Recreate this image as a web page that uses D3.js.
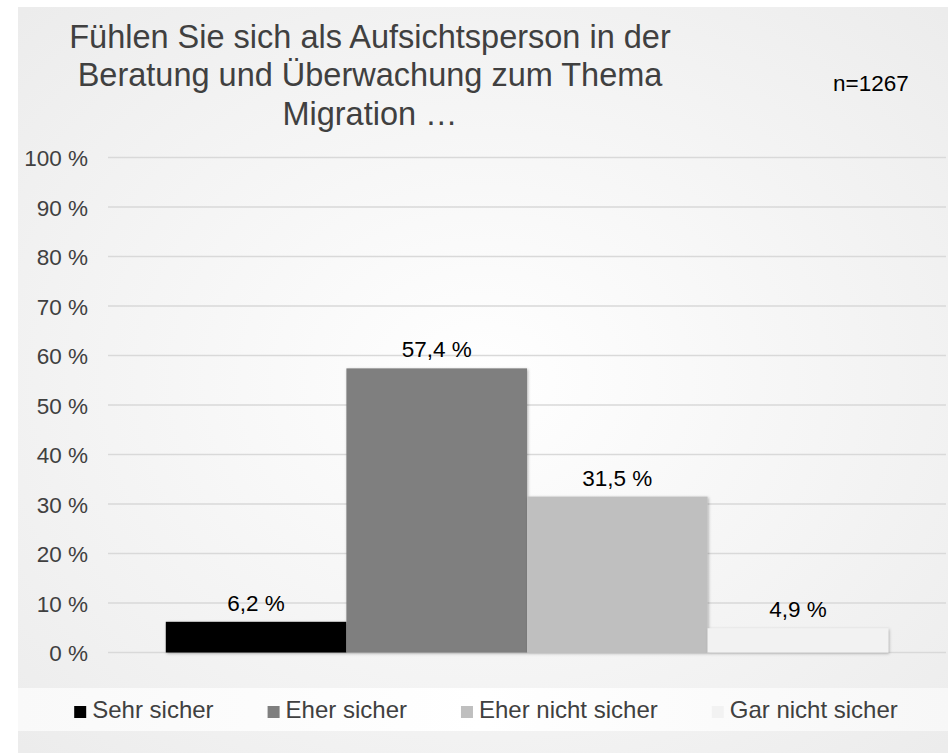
<!DOCTYPE html>
<html>
<head>
<meta charset="utf-8">
<script src="https://cdn.jsdelivr.net/npm/d3@7"></script>
<style>
  html, body { margin: 0; padding: 0; background: #ffffff; }
  svg { display: block; font-family: "Liberation Sans", Arial, sans-serif; }
</style>
</head>
<body>
<svg id="chart" width="948" height="753"></svg>
<script>
// ---- data ----
const titleLines = ["Fühlen Sie sich als Aufsichtsperson in der", "Beratung und Überwachung zum Thema", "Migration …"];
const sampleNote = "n=1267";
const seriesNames = ["Sehr sicher", "Eher sicher", "Eher nicht sicher", "Gar nicht sicher"];
const seriesValues = [6.2, 57.4, 31.5, 4.9];
const seriesColors = ["#000000", "#7f7f7f", "#bfbfbf", "#f2f2f2"];
const yTicks = [0, 10, 20, 30, 40, 50, 60, 70, 80, 90, 100];

const svg = d3.select("#chart");
const area = {x: 18, y: 7, w: 930, h: 746};
const plot = {left: 108, right: 946, top: 157.5, bottom: 652.5};

const defs = svg.append("defs");
const rg = defs.append("radialGradient").attr("id", "bg")
  .attr("cx", "50%").attr("cy", "50%").attr("r", "70%");
rg.append("stop").attr("offset", "0%").attr("stop-color", "#ffffff");
rg.append("stop").attr("offset", "100%").attr("stop-color", "#ececec");

const lg = defs.append("linearGradient").attr("id", "legbg").attr("x1", "0").attr("x2", "1");
lg.append("stop").attr("offset", "0%").attr("stop-color", "#f9f9f9");
lg.append("stop").attr("offset", "50%").attr("stop-color", "#ffffff");
lg.append("stop").attr("offset", "100%").attr("stop-color", "#f7f7f7");

const sh = defs.append("filter").attr("id", "shadow")
  .attr("x", "-10%").attr("y", "-10%").attr("width", "130%").attr("height", "130%");
sh.append("feDropShadow").attr("dx", 1).attr("dy", 1).attr("stdDeviation", 1.5)
  .attr("flood-color", "#000").attr("flood-opacity", 0.3);

// background
svg.append("rect").attr("x", area.x).attr("y", area.y).attr("width", area.w).attr("height", area.h)
  .attr("fill", "url(#bg)");
// legend band
svg.append("rect").attr("x", area.x).attr("y", 688).attr("width", area.w).attr("height", 43)
  .attr("fill", "url(#legbg)");

// scales
const y = d3.scaleLinear().domain([0, 100]).range([plot.bottom, plot.top]);
const x = d3.scaleBand().domain(seriesNames).range([plot.left, plot.right])
  .paddingInner(0).paddingOuter(0.32);

// gridlines
svg.append("g").selectAll("line").data(yTicks).join("line")
  .attr("x1", plot.left).attr("x2", plot.right)
  .attr("y1", d => y(d)).attr("y2", d => y(d))
  .attr("stroke", "#d9d9d9").attr("stroke-width", 1.5);

// y axis labels
const yAxis = d3.axisLeft(y).tickValues(yTicks).tickFormat(d => d + " %").tickSize(0).tickPadding(0);
const gy = svg.append("g").attr("transform", "translate(88,0)").call(yAxis);
gy.select(".domain").remove();
gy.selectAll("text").attr("font-size", 22.5).attr("fill", "#404040")
  .attr("font-family", "'Liberation Sans', Arial, sans-serif").attr("dy", "0.36em");

// bars
svg.append("g").selectAll("rect").data(seriesNames).join("rect")
  .attr("x", d => x(d)).attr("width", x.bandwidth())
  .attr("y", (d, i) => y(seriesValues[i]))
  .attr("height", (d, i) => y(0) - y(seriesValues[i]))
  .attr("fill", (d, i) => seriesColors[i])
  .attr("filter", "url(#shadow)");

// data labels
svg.append("g").selectAll("text").data(seriesNames).join("text")
  .attr("x", d => x(d) + x.bandwidth() / 2)
  .attr("y", (d, i) => y(seriesValues[i]) - 11)
  .attr("text-anchor", "middle").attr("font-size", 22.5).attr("fill", "#000")
  .text((d, i) => d3.format(".1f")(seriesValues[i]).replace(".", ",") + " %");

// title
svg.append("g").selectAll("text").data(titleLines).join("text")
  .attr("x", 370).attr("y", (d, i) => 48 + i * 38.3)
  .attr("text-anchor", "middle").attr("font-size", 32.5).attr("fill", "#404040")
  .text(d => d);

// n note
svg.append("text").attr("x", 833).attr("y", 91).attr("font-size", 22.5).attr("fill", "#000")
  .text(sampleNote);

// legend
const leg = svg.append("g");
const items = leg.selectAll("g").data(seriesNames).join("g");
items.append("rect").attr("width", 12).attr("height", 12).attr("y", -12)
  .attr("fill", (d, i) => seriesColors[i]);
items.append("text").attr("x", 18).attr("y", 0).attr("font-size", 24).attr("fill", "#404040").text(d => d);
const gap = 54; const widths = [];
items.each(function() { widths.push(this.getBBox().width); });
const total = d3.sum(widths) + gap * (widths.length - 1);
const start = 486 - total / 2;
items.attr("transform", (d, i) => {
  const tx = start + d3.sum(widths.slice(0, i)) + gap * i;
  return `translate(${tx},718)`;
});
</script>
</body>
</html>
